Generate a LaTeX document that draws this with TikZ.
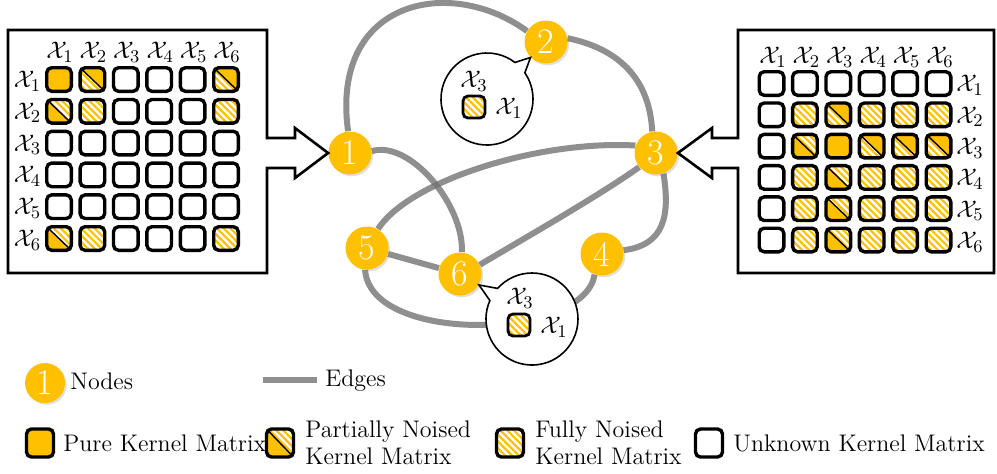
\documentclass[tikz,border=0pt]{standalone}
\usepackage{amsmath}
\usepackage{amssymb}
\usepackage{tikz}
\usetikzlibrary{positioning,shapes.callouts,patterns.meta,shadows}
\definecolor{kgold}{HTML}{FFC000}

\pgfdeclarelayer{background}
\pgfsetlayers{background,main}

\tikzset{
  vertex/.style={shape=circle, fill=kgold, minimum size=21.5pt, inner sep=0pt, text=white,
    font=\fontsize{18}{18}\selectfont,
    drop shadow={shadow xshift=0.9pt, shadow yshift=-0.9pt, opacity=0.25}},
  link/.style={draw=black!55, draw opacity=0.8, line width=3pt},
  frame/.style={draw=black, line width=1.3pt},
  lab/.style={inner sep=0pt, font=\fontsize{12.5}{12.5}\selectfont},
  legtext/.style={inner sep=0pt, anchor=west, align=left, font=\fontsize{12}{13.5}\selectfont},
  bubble/.style={ellipse callout, draw=black, line width=0.8pt, fill=white,
    minimum width=46pt, minimum height=46pt, inner sep=0pt, callout pointer arc=18},
  cell/.style={shape=rectangle, draw=black, line width=1.7pt, rounded corners=2.5pt,
    minimum width=12.3pt, minimum height=11.8pt, inner sep=0pt},
  cellU/.style={cell, fill=white},
  cellP/.style={cell, fill=kgold},
  cellF/.style={cell, pattern={Lines[angle=-45,distance=2.4pt,line width=1.1pt]}, pattern color=kgold},
  cellA/.style={cellF, path picture={
    \fill[kgold, sharp corners] (path picture bounding box.north west) -- (path picture bounding box.north east)
      -- (path picture bounding box.south east) -- cycle;
    \draw[line width=0.7pt, sharp corners] (path picture bounding box.north west) -- (path picture bounding box.south east);}},
  cellB/.style={cellF, path picture={
    \fill[kgold, sharp corners] (path picture bounding box.north west) -- (path picture bounding box.south west)
      -- (path picture bounding box.south east) -- cycle;
    \draw[line width=0.7pt, sharp corners] (path picture bounding box.north west) -- (path picture bounding box.south east);}},
  kcell/.style={cell#1},
  big/.style={minimum width=13.5pt, minimum height=14pt},
  small/.style={minimum width=11pt, minimum height=11pt, line width=1.4pt},
}

\begin{document}
\begin{tikzpicture}[x=0.5pt, y=-0.5pt]
  \useasboundingbox (0,0) rectangle (997,473);

  % graph nodes
  \node[vertex] (n1) at (350,153) {1};
  \node[vertex] (n2) at (546,42) {2};
  \node[vertex] (n3) at (656,153) {3};
  \node[vertex] (n4) at (602,254) {4};
  \node[vertex] (n5) at (367,248) {5};
  \node[vertex] (n6) at (460,274) {6};

  % graph edges
  \begin{pgfonlayer}{background}
    \draw[link] (n1.95) .. controls (330,0) and (450,-25) .. (n2.150);
    \draw[link] (n2.10) .. controls (625,50) and (650,85) .. (n3.100);
    \draw[link] (n1.5) .. controls (410,140) and (464,205) .. (n6.85);
    \draw[link] (n3.160) .. controls (540,140) and (410,180) .. (n5.60);
    \draw[link] (n3.220) .. controls (600,195) and (530,235) .. (n6.25);
    \draw[link] (n3.290) .. controls (670,215) and (665,245) .. (n4.10);
    \draw[link] (n5) -- (n6);
    \draw[link] (n5.265) .. controls (370,345) and (585,340) .. (n4.250);
  \end{pgfonlayer}

  % callouts
  \node[bubble, callout absolute pointer={(n2.225)}] (b1) at (487,99) {};
  \node[cellF, small] (b1s) at (474,107) {};
  \node[lab] (b1r) at (474,81) {$\mathcal{X}_3$};
  \node[lab] (b1c) at (509,108) {$\mathcal{X}_1$};

  \node[bubble, callout absolute pointer={(n6.330)}] (b2) at (532,319) {};
  \node[cellF, small] (b2s) at (519,325) {};
  \node[lab] (b2r) at (520,298) {$\mathcal{X}_3$};
  \node[lab] (b2c) at (554,327) {$\mathcal{X}_1$};

  % left kernel matrix
  \draw[frame] (8,30) -- (267,30) -- (267,138) -- (295,138) -- (295,128) -- (n1.west)
    -- (295,178) -- (295,168) -- (267,168) -- (267,273) -- (8,273) -- cycle;
  \foreach \r/\row in {1/{P,A,U,U,U,A}, 2/{B,F,U,U,U,F}, 3/{U,U,U,U,U,U},
                       4/{U,U,U,U,U,U}, 5/{U,U,U,U,U,U}, 6/{B,F,U,U,U,F}}
    \foreach \t [count=\c] in \row
      \node[kcell/.expanded=\t] (L-\r-\c) at ({59+33.4*(\c-1)},{79.5+31.8*(\r-1)}) {};
  \foreach \i in {1,...,6} {
    \node[lab] (Lc\i) at ({60+33.4*(\i-1)},52) {$\mathcal{X}_{\i}$};
    \node[lab] (Lr\i) at (27.5,{81+31.8*(\i-1)}) {$\mathcal{X}_{\i}$};
  }

  % right kernel matrix
  \draw[frame] (994,30) -- (738,30) -- (738,138) -- (712,138) -- (712,128) -- (n3.east)
    -- (712,178) -- (712,168) -- (738,168) -- (738,273) -- (994,273) -- cycle;
  \foreach \r/\row in {1/{U,U,U,U,U,U}, 2/{U,F,A,F,F,F}, 3/{U,B,P,A,A,A},
                       4/{U,F,B,F,F,F}, 5/{U,F,B,F,F,F}, 6/{U,F,B,F,F,F}}
    \foreach \t [count=\c] in \row
      \node[kcell/.expanded=\t] (R-\r-\c) at ({771.5+33.4*(\c-1)},{83.5+31.3*(\r-1)}) {};
  \foreach \i in {1,...,6} {
    \node[lab] (Rc\i) at ({773+33.4*(\i-1)},57) {$\mathcal{X}_{\i}$};
    \node[lab] (Rr\i) at (970,{85.5+31.3*(\i-1)}) {$\mathcal{X}_{\i}$};
  }

  % legend
  \node[vertex, minimum size=20pt] (k1) at (45,383) {1};
  \node[legtext] (k1t) at (70,381) {Nodes};
  \coordinate (ke1) at (263,380);
  \coordinate (ke2) at (317,380);
  \draw[link] (ke1) -- (ke2);
  \node[legtext] (ket) at (325,381) {Edges};

  \node[cellP, big] (kP) at (40,443) {};
  \node[legtext] (kPt) at (63,443) {Pure Kernel Matrix};
  \node[cellB, big] (kB) at (280,443) {};
  \node[legtext] (kBt) at (305,443) {Partially Noised\\Kernel Matrix};
  \node[cellF, big] (kF) at (510,443) {};
  \node[legtext] (kFt) at (535,443) {Fully Noised\\Kernel Matrix};
  \node[cellU, big] (kU) at (709,443) {};
  \node[legtext] (kUt) at (733,443) {Unknown Kernel Matrix};
\end{tikzpicture}
\end{document}
